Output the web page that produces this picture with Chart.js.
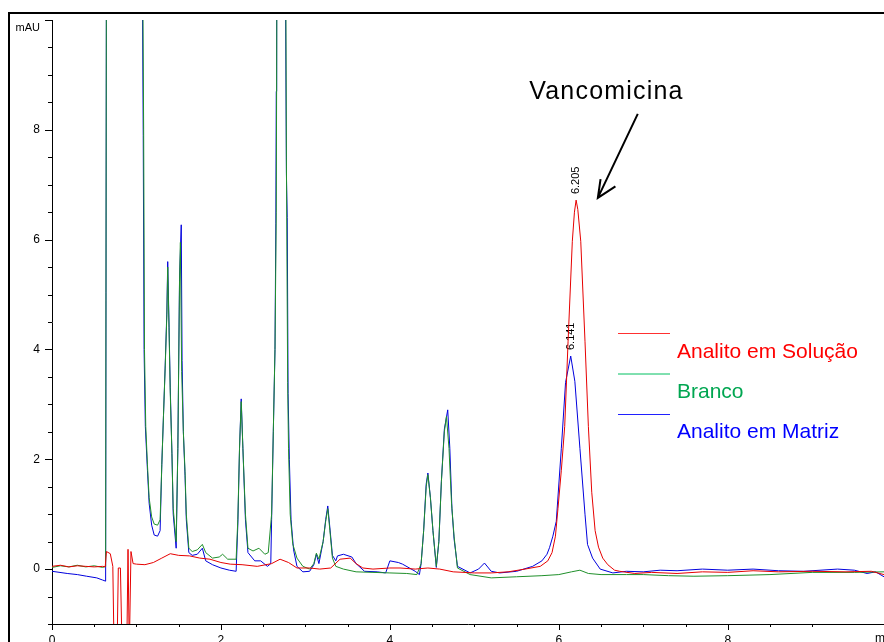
<!DOCTYPE html>
<html>
<head>
<meta charset="utf-8">
<script src="https://cdn.jsdelivr.net/npm/chart.js@4.4.0/dist/chart.umd.min.js"></script>
<style>
    html, body { margin: 0; padding: 0; background: #fff; overflow: hidden; }
    #wrap { position: relative; width: 884px; height: 660px; }
</style>
</head>
<body>
<div id="wrap"><canvas id="chrom" width="884" height="660"></canvas></div>
<script>
// Retention time (min) and absorbance (mAU)
const solucaoT = [0, 0.1, 0.2, 0.3, 0.4, 0.5, 0.6, 0.63, 0.645, 0.69, 0.72, 0.735, 0.77, 0.785, 0.81, 0.83, 0.885, 0.9, 0.915, 0.935, 0.96,
    1.0, 1.1, 1.2, 1.3, 1.4, 1.5, 1.63, 1.75, 1.87, 2.0, 2.11, 2.25, 2.43, 2.6, 2.7, 2.8, 2.9, 3.05, 3.17, 3.3, 3.41, 3.53, 3.6, 3.68,
    3.8, 4.0, 4.12, 4.3, 4.45, 4.59, 4.75, 5.0, 5.2, 5.4, 5.6, 5.78, 5.87, 5.92, 5.96, 5.99, 6.03, 6.07, 6.11, 6.16, 6.185, 6.205, 6.225,
    6.26, 6.31, 6.35, 6.39, 6.43, 6.47, 6.52, 6.58, 6.66, 6.72, 6.9, 7.1, 7.4, 7.7, 8.0, 8.3, 8.6, 9.0, 9.4, 9.7, 9.85];
const solucaoY = [0.05, 0.07, 0.04, 0.06, 0.05, 0.04, 0.05, 0.04, 0.32, 0.28, 0.05, -1.5, -1.5, 0.02, 0.02, -1.5, -1.5, 0.36, -1.5, 0.32, 0.1,
    0.09, 0.08, 0.12, 0.2, 0.28, 0.25, 0.24, 0.2, 0.18, 0.12, 0.09, 0.08, 0.05, 0.1, 0.18, 0.12, 0.02, 0.02, 0.0, 0.02, 0.18, 0.2, 0.1, 0.02,
    0.0, 0.02, 0.02, 0.0, 0.02, 0.0, -0.05, -0.07, -0.07, -0.05, 0.0, 0.05, 0.15, 0.3, 0.6, 1.1, 1.8, 2.6, 4.15, 5.97, 6.5, 6.72, 6.55,
    5.97, 4.15, 2.6, 1.4, 0.7, 0.4, 0.2, 0.08, -0.02, -0.04, -0.08, -0.06, -0.08, -0.05, -0.06, -0.03, -0.05, -0.04, -0.05, -0.04, -0.1];

const brancoT = [0, 0.1, 0.2, 0.3, 0.4, 0.5, 0.6, 0.635, 0.645, 1.07, 1.085, 1.095, 1.11, 1.13, 1.15, 1.18, 1.21, 1.25, 1.28, 1.3, 1.32,
    1.34, 1.36, 1.37, 1.385, 1.4, 1.42, 1.435, 1.47, 1.49, 1.51, 1.52, 1.535, 1.555, 1.575, 1.59, 1.62, 1.66, 1.72, 1.78, 1.82, 1.9,
    1.98, 2.02, 2.08, 2.18, 2.2, 2.22, 2.24, 2.26, 2.29, 2.32, 2.38, 2.45, 2.52, 2.56, 2.6, 2.62, 2.64, 2.655, 2.665, 2.765, 2.775,
    2.79, 2.8, 2.82, 2.85, 2.9, 2.97, 3.05, 3.1, 3.13, 3.16, 3.21, 3.24, 3.265, 3.29, 3.32, 3.36, 3.45, 3.6, 3.8, 4.0, 4.2, 4.32, 4.37,
    4.4, 4.43, 4.45, 4.48, 4.51, 4.55, 4.58, 4.61, 4.645, 4.67, 4.7, 4.73, 4.76, 4.8, 4.95, 5.2, 5.5, 5.8, 6.0, 6.15, 6.25, 6.35, 6.5,
    6.8, 7.0, 7.3, 7.6, 8.0, 8.5, 9.0, 9.5, 9.85];
const brancoY = [0.03, 0.06, 0.04, 0.07, 0.04, 0.06, 0.03, 0.05, 12, 12, 8, 4, 2.6, 1.9, 1.3, 0.95, 0.82, 0.8, 0.9, 1.9, 2.8,
    3.66, 4.64, 5.5, 4.4, 3.2, 2.1, 1.1, 0.5, 2.2, 5.25, 5.95, 3.6, 2.5, 1.78, 1.0, 0.38, 0.32, 0.35, 0.45, 0.3, 0.2,
    0.22, 0.27, 0.18, 0.18, 0.9, 2.2, 3.05, 2.2, 1.0, 0.38, 0.33, 0.38, 0.27, 0.3, 1.0, 2.5, 4.0, 6.5, 12, 12, 7.5,
    3.4, 2.2, 1.0, 0.46, 0.2, 0.05, 0.0, 0.1, 0.29, 0.18, 0.5, 0.87, 1.1, 0.7, 0.2, 0.05, 0.0, -0.05, -0.06, -0.07, -0.08, -0.1, 0.1,
    0.7, 1.5, 1.72, 1.3, 0.7, 0.05, 0.5, 1.6, 2.5, 2.78, 2.2, 1.2, 0.6, 0.02, -0.1, -0.16, -0.14, -0.12, -0.1, -0.05, -0.02, -0.08, -0.1,
    -0.1, -0.1, -0.12, -0.13, -0.12, -0.1, -0.06, -0.06, -0.05];

const matrizT = [0, 0.18, 0.3, 0.41, 0.53, 0.6, 0.635, 0.645, 1.065, 1.08, 1.09, 1.105, 1.13, 1.15, 1.18, 1.21, 1.25, 1.28, 1.3, 1.32,
    1.34, 1.36, 1.37, 1.385, 1.4, 1.42, 1.435, 1.47, 1.49, 1.51, 1.53, 1.54, 1.555, 1.575, 1.59, 1.62, 1.66, 1.72, 1.78, 1.82, 1.9,
    2.0, 2.1, 2.18, 2.2, 2.22, 2.24, 2.26, 2.29, 2.32, 2.4, 2.47, 2.55, 2.59, 2.6, 2.62, 2.64, 2.65, 2.655, 2.66, 2.76, 2.775, 2.785,
    2.795, 2.81, 2.83, 2.86, 2.9, 2.97, 3.05, 3.1, 3.13, 3.16, 3.21, 3.24, 3.265, 3.29, 3.32, 3.36, 3.38, 3.45, 3.55, 3.6, 3.7, 3.85,
    3.95, 4.0, 4.1, 4.15, 4.3, 4.35, 4.37, 4.4, 4.43, 4.45, 4.48, 4.51, 4.55, 4.58, 4.61, 4.645, 4.685, 4.71, 4.735, 4.76, 4.8, 4.95,
    5.05, 5.12, 5.2, 5.3, 5.5, 5.69, 5.8, 5.86, 5.89, 5.93, 5.97, 6.03, 6.08, 6.141, 6.19, 6.25, 6.31, 6.34, 6.4, 6.49, 6.64, 6.8, 7.0,
    7.2, 7.4, 7.7, 8.0, 8.3, 8.6, 8.9, 9.3, 9.5, 9.65, 9.75, 9.85];
const matrizY = [-0.04, -0.08, -0.1, -0.13, -0.16, -0.2, -0.22, 12, 12, 7.9, 4, 2.6, 1.8, 1.2, 0.8, 0.62, 0.6, 0.7, 1.9, 2.8,
    3.7, 4.7, 5.6, 4.5, 3.3, 2.1, 1.0, 0.38, 2.2, 5.3, 6.27, 3.8, 2.5, 1.7, 0.9, 0.3, 0.25, 0.27, 0.38, 0.15, 0.08,
    0.02, -0.02, -0.04, 0.8, 2.2, 3.1, 2.2, 0.9, 0.3, 0.15, 0.15, 0.05, 0.1, 0.9, 2.5, 4.0, 6.3, 8.7, 12, 12, 7.2, 6.4,
    3.2, 2.0, 0.9, 0.35, 0.05, -0.05, -0.04, 0.08, 0.27, 0.1, 0.5, 0.9, 1.15, 0.75, 0.25, 0.15, 0.24, 0.27, 0.22, 0.1, -0.04, -0.05,
    -0.07, 0.15, 0.12, 0.09, -0.04, -0.1, 0.1, 0.7, 1.55, 1.75, 1.3, 0.7, 0.03, 0.5, 1.6, 2.55, 2.9, 2.2, 1.1, 0.55, 0.05, -0.07,
    0.0, 0.11, -0.04, -0.07, -0.04, 0.05, 0.15, 0.27, 0.39, 0.6, 0.87, 2.2, 3.4, 3.88, 3.42, 2.2, 1.0, 0.45, 0.2, 0.0, -0.07, -0.04, -0.05,
    -0.02, -0.03, 0.0, -0.02, 0.0, -0.03, -0.04, 0.0, -0.02, -0.08, -0.05, -0.14];

const seriesNames = ['Analito em Solução', 'Branco', 'Analito em Matriz'];
const peakTimes = [6.205, 6.141];
const peakHeights = [6.72, 3.88];
const peakLabels = ['6.205', '6.141'];

const FONT = 'Arial, "Liberation Sans", sans-serif';
Chart.defaults.font.family = FONT;

function toPoints(ts, ys) {
    return ts.map((t, i) => ({ x: t, y: ys[i] }));
}

const legendColors = [
    { line: '#ff3030', text: '#ff0000' },
    { line: '#00c060', text: '#00a651' },
    { line: '#2020ff', text: '#0000ff' }
];

const decorPlugin = {
    id: 'decor',
    beforeDatasetsDraw(chart) {
        const { ctx, scales: { x, y } } = chart;
        // peak retention time labels, rotated
        ctx.save();
        ctx.fillStyle = '#000';
        ctx.font = '11px ' + FONT;
        peakTimes.forEach((t, i) => {
            ctx.save();
            ctx.translate(x.getPixelForValue(t), y.getPixelForValue(peakHeights[i]) - 6);
            ctx.rotate(-Math.PI / 2);
            ctx.textAlign = 'left';
            ctx.textBaseline = 'middle';
            ctx.fillText(peakLabels[i], 0, 0);
            ctx.restore();
        });
        ctx.restore();
    },
    afterDraw(chart) {
        const { ctx, scales: { x, y } } = chart;
        ctx.save();
        ctx.strokeStyle = '#000';
        ctx.lineWidth = 1;

        // tick marks: major every 2, minor every 0.5
        x.ticks.forEach(tk => {
            const v = tk.value;
            if (Math.abs(v * 2 - Math.round(v * 2)) > 1e-6) return;
            const len = Math.abs(v % 2) < 1e-6 ? 6 : 3;
            const p = Math.round(x.getPixelForValue(v)) + 0.5;
            ctx.beginPath();
            ctx.moveTo(p, x.top);
            ctx.lineTo(p, x.top + len);
            ctx.stroke();
        });
        y.ticks.forEach(tk => {
            const v = tk.value;
            if (Math.abs(v * 2 - Math.round(v * 2)) > 1e-6) return;
            const len = Math.abs(v % 2) < 1e-6 ? 7 : 4;
            const p = Math.round(y.getPixelForValue(v)) + 0.5;
            ctx.beginPath();
            ctx.moveTo(y.right, p);
            ctx.lineTo(y.right - len, p);
            ctx.stroke();
        });

        // unit labels
        ctx.fillStyle = '#000';
        ctx.font = '11px ' + FONT;
        ctx.textAlign = 'right';
        ctx.textBaseline = 'middle';
        ctx.fillText('mAU', 40, 28);
        ctx.font = '12px ' + FONT;
        ctx.textAlign = 'left';
        ctx.textBaseline = 'top';
        ctx.fillText('min', 875, x.top + 9);

        // frame
        ctx.fillRect(8, 12, chart.width - 8, 2);
        ctx.fillRect(8, 12, 2, chart.height - 12);

        // legend: short line, label below it
        ctx.font = '21px ' + FONT;
        ctx.textAlign = 'left';
        ctx.textBaseline = 'alphabetic';
        seriesNames.forEach((name, i) => {
            const ly = 333.5 + i * 40.5;
            ctx.strokeStyle = legendColors[i].line;
            ctx.beginPath();
            ctx.moveTo(618, ly);
            ctx.lineTo(670, ly);
            ctx.stroke();
            ctx.fillStyle = legendColors[i].text;
            ctx.fillText(name, 677, 358 + i * 40);
        });

        // annotation: compound name and arrow
        ctx.fillStyle = '#000';
        ctx.font = '25px ' + FONT;
        ctx.letterSpacing = '1.2px';
        ctx.textAlign = 'left';
        ctx.fillText('Vancomicina', x.getPixelForValue(5.65), y.getPixelForValue(8.56));
        ctx.letterSpacing = '0px';
        const x0 = x.getPixelForValue(6.935), y0 = y.getPixelForValue(8.29);
        const x1 = x.getPixelForValue(6.462), y1 = y.getPixelForValue(6.76);
        const ang = Math.atan2(y0 - y1, x0 - x1);
        ctx.strokeStyle = '#000';
        ctx.lineWidth = 2;
        ctx.beginPath();
        ctx.moveTo(x0, y0);
        ctx.lineTo(x1, y1);
        ctx.moveTo(x1 + 19 * Math.cos(ang - 0.3), y1 + 19 * Math.sin(ang - 0.3));
        ctx.lineTo(x1, y1);
        ctx.lineTo(x1 + 21 * Math.cos(ang + 0.55), y1 + 21 * Math.sin(ang + 0.55));
        ctx.stroke();
        ctx.restore();
    }
};

const ctx = document.getElementById('chrom').getContext('2d');
const chart = new Chart(ctx, {
    type: 'line',
    data: {
        datasets: [
            { label: seriesNames[0], data: toPoints(solucaoT, solucaoY), borderColor: '#e60000' },
            { label: seriesNames[1], data: toPoints(brancoT, brancoY), borderColor: '#1f8f2a' },
            { label: seriesNames[2], data: toPoints(matrizT, matrizY), borderColor: '#0000dd' }
        ]
    },
    options: {
        responsive: false,
        animation: false,
        layout: { padding: { top: 20, left: 0, right: 0, bottom: 0 } },
        elements: {
            point: { radius: 0 },
            line: { borderWidth: 1, tension: 0 }
        },
        plugins: {
            legend: { display: false },
            tooltip: { enabled: false }
        },
        scales: {
            x: {
                type: 'linear',
                min: 0,
                max: 9.85,
                afterFit: s => { s.height = 36; s.paddingLeft = 0; s.paddingRight = 0; },
                grid: { drawOnChartArea: false, drawTicks: false },
                border: { color: '#000', width: 1 },
                ticks: {
                    stepSize: 0.5,
                    autoSkip: false,
                    maxRotation: 0,
                    padding: 9,
                    color: '#000',
                    font: { size: 12 },
                    callback: v => (Math.abs(v % 2) < 1e-6 && v < 9.8) ? String(v) : ''
                }
            },
            y: {
                min: -1,
                max: 10,
                afterFit: s => { s.width = 52; s.paddingTop = 0; s.paddingBottom = 0; },
                grid: { drawOnChartArea: false, drawTicks: false },
                border: { color: '#000', width: 1 },
                ticks: {
                    stepSize: 0.5,
                    autoSkip: false,
                    padding: 12,
                    color: '#000',
                    font: { size: 12 },
                    callback: v => (Math.abs(v % 2) < 1e-6 && v >= 0 && v < 10) ? String(v) : ''
                }
            }
        }
    },
    plugins: [decorPlugin]
});
</script>
</body>
</html>
